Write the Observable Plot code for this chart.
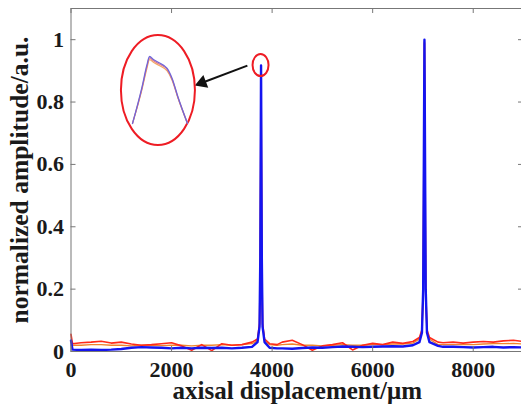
<!DOCTYPE html>
<html><head><meta charset="utf-8">
<script src="https://cdn.jsdelivr.net/npm/d3@7"></script>
<script src="https://cdn.jsdelivr.net/npm/@observablehq/plot@0.6"></script>
<style>
html,body{margin:0;padding:0;background:#fff;overflow:hidden;}
#wrap{position:relative;width:521px;height:411px;overflow:hidden;}
#wrap svg text{font-family:"Liberation Serif","Times New Roman",serif;font-weight:bold;}
#inset{position:absolute;left:132px;top:56px;}
</style></head><body><div id="wrap"></div>
<script>
// axial positions (μm)
const positions = [0,30,200,400,600,800,1000,1200,1400,1600,
  1800,2000,2200,2400,2600,2800,3000,3200,3400,3600,
  3710,3750,3765,3780,3795,3810,3850,3950,4100,4200,
  4400,4600,4800,5000,5200,5400,5600,5800,6000,6200,
  6400,6600,6800,6930,6980,7005,7030,7055,7080,7130,
  7300,7400,7600,7800,8000,8200,8400,8600,8800,9000];
const blueValues = [0.035,0.006,0.005,0.006,0.005,0.006,0.008,0.012,0.014,0.013,
  0.012,0.010,0.012,0.010,0.012,0.011,0.012,0.010,0.012,0.015,
  0.03,0.08,0.3,0.917,0.3,0.08,0.03,0.012,0.010,0.010,
  0.009,0.011,0.013,0.012,0.014,0.016,0.015,0.014,0.015,0.016,
  0.017,0.016,0.02,0.03,0.06,0.2,1.0,0.2,0.06,0.03,
  0.018,0.015,0.015,0.014,0.013,0.014,0.015,0.013,0.014,0.013];
const redValues = [0.055,0.025,0.028,0.03,0.033,0.027,0.03,0.024,0.02,0.022,
  0.025,0.028,0.018,0.004,0.022,0.003,0.025,0.02,0.022,0.03,
  0.04,0.09,0.3,0.91,0.3,0.09,0.04,0.025,0.022,0.03,
  0.036,0.022,0.004,0.018,0.022,0.028,0.005,0.02,0.026,0.022,
  0.03,0.026,0.032,0.045,0.07,0.2,0.99,0.2,0.07,0.045,
  0.03,0.028,0.03,0.027,0.03,0.032,0.03,0.034,0.036,0.032];
const orangeValues = [0.02,0.02,0.02,0.022,0.022,0.02,0.02,0.018,0.02,0.02,
  0.019,0.02,0.02,0.018,0.02,0.02,0.022,0.02,0.022,0.025,
  0.035,0.085,0.3,0.905,0.3,0.085,0.035,0.022,0.02,0.022,
  0.024,0.02,0.02,0.018,0.02,0.022,0.02,0.02,0.022,0.022,
  0.024,0.024,0.027,0.04,0.065,0.2,0.995,0.2,0.065,0.04,
  0.022,0.022,0.022,0.022,0.022,0.024,0.025,0.025,0.026,0.024];

const xTicks = [0,2000,4000,6000,8000];
const yTicks = [0,0.2,0.4,0.6,0.8,1];
const xLabel = "axisal displacement/μm";
const yLabel = "normalized amplitude/a.u.";

// zoomed view of the first peak (inset)
const insetPositions = [3770,3773.5,3775.2,3776.2,3777.6,3779.5,3782.6,3784.4,3786.5,3790];
const insetBlue   = [0.86,0.893,0.912,0.920,0.9173,0.9146,0.9093,0.9003,0.884,0.86];
const insetRed    = [0.86,0.892,0.9105,0.9188,0.9162,0.9135,0.9082,0.8996,0.8835,0.86];
const insetOrange = [0.86,0.891,0.909,0.9172,0.9148,0.9122,0.9070,0.8988,0.883,0.86];

// annotations (data coordinates)
const arrowTail = {x: 3508, y: 0.917};
const arrowTip = {x: 2608, y: 0.862};
const smallCircle = {x: 3780, y: 0.917};
const bigCircle = {x: 1739, y: 0.837};

const toRows = (vals) => positions.map((x, i) => ({x, y: vals[i]}));
const W = 521, H = 411, mL = 70.5, mR = -2, mT = 8, mB = 60;
const innerW = W - mL - mR, innerH = H - mT - mB;
const serif = "Liberation Serif";

const plot = Plot.plot({
  width: W, height: H,
  marginLeft: mL, marginRight: mR, marginTop: mT, marginBottom: mB,
  x: {domain: [0, 9000]},
  y: {domain: [0, 1.1]},
  style: {fontFamily: serif, fontWeight: "bold", fontSize: "22px", color: "#1a1a1a", background: "#fff", overflow: "visible"},
  marks: [
    Plot.line(toRows(orangeValues), {x: "x", y: "y", stroke: "#f0842c", strokeWidth: 1.3}),
    Plot.line(toRows(redValues), {x: "x", y: "y", stroke: "#ff2a1a", strokeWidth: 1.6}),
    Plot.line(toRows(blueValues), {x: "x", y: "y", stroke: "#1414f0", strokeWidth: 2.4}),
    Plot.ruleX(xTicks, {x: d => d, insetTop: innerH - 5, stroke: "#777"}),
    Plot.ruleX(xTicks, {x: d => d, insetBottom: innerH - 5, stroke: "#777"}),
    Plot.ruleY(yTicks, {y: d => d, insetRight: innerW - 5, stroke: "#777"}),
    Plot.ruleY(yTicks, {y: d => d, insetLeft: innerW - 5, stroke: "#777"}),
    Plot.axisX(xTicks, {tickSize: 0, tickPadding: 10, tickFormat: "d", label: null, fontFamily: serif, fontWeight: "bold", fontSize: 22}),
    Plot.axisY(yTicks, {tickSize: 0, tickPadding: 7, tickFormat: d => String(d), label: null, fontFamily: serif, fontWeight: "bold", fontSize: 22}),
    Plot.text([xLabel], {frameAnchor: "bottom", textAnchor: "middle", dy: 39, fontSize: 25, fontFamily: serif, fontWeight: "bold", lineAnchor: "middle"}),
    Plot.text([yLabel], {frameAnchor: "left", textAnchor: "middle", dx: -51, rotate: -90, fontSize: 25.5, fontFamily: serif, fontWeight: "bold", lineAnchor: "middle"}),
    Plot.link([{a: arrowTail, b: arrowTip}], {x1: d => d.a.x, y1: d => d.a.y, x2: d => d.b.x, y2: d => d.b.y, stroke: "#111", strokeWidth: 2}),
    Plot.dot([arrowTip], {x: "x", y: "y", symbol: "triangle2", r: 6.5, fill: "#111", stroke: "none", rotate: 249}),
    Plot.frame({stroke: "#777"})
  ]
});

const xs = plot.scale("x"), ys = plot.scale("y");
const sx = xs.apply ? xs.apply : d3.scaleLinear(xs.domain, xs.range);
const sy = ys.apply ? ys.apply : d3.scaleLinear(ys.domain, ys.range);
const ns = "http://www.w3.org/2000/svg";
function addEllipse(c, rx, ry) {
  const e = document.createElementNS(ns, "ellipse");
  e.setAttribute("cx", sx(c.x)); e.setAttribute("cy", sy(c.y));
  e.setAttribute("rx", rx); e.setAttribute("ry", ry);
  e.setAttribute("fill", "none"); e.setAttribute("stroke", "#ee1c24"); e.setAttribute("stroke-width", 2);
  plot.appendChild(e);
}
addEllipse(smallCircle, 8, 11);
addEllipse(bigCircle, 37, 55);

document.getElementById("wrap").appendChild(plot);

const inset = Plot.plot({
  width: 55, height: 67, margin: 0,
  x: {domain: [3770, 3790], axis: null},
  y: {domain: [0.86, 0.92], axis: null},
  style: {background: "transparent", overflow: "visible"},
  marks: [
    Plot.line(insetPositions.map((x, i) => ({x, y: insetOrange[i]})), {x: "x", y: "y", stroke: "#f4a860", strokeWidth: 1.2, curve: "monotone-x"}),
    Plot.line(insetPositions.map((x, i) => ({x, y: insetRed[i]})), {x: "x", y: "y", stroke: "#e07a8a", strokeWidth: 1.2, curve: "monotone-x"}),
    Plot.line(insetPositions.map((x, i) => ({x, y: insetBlue[i]})), {x: "x", y: "y", stroke: "#7066d8", strokeWidth: 1.3, curve: "monotone-x"})
  ]
});
inset.id = "inset";
document.getElementById("wrap").appendChild(inset);
</script></body></html>
